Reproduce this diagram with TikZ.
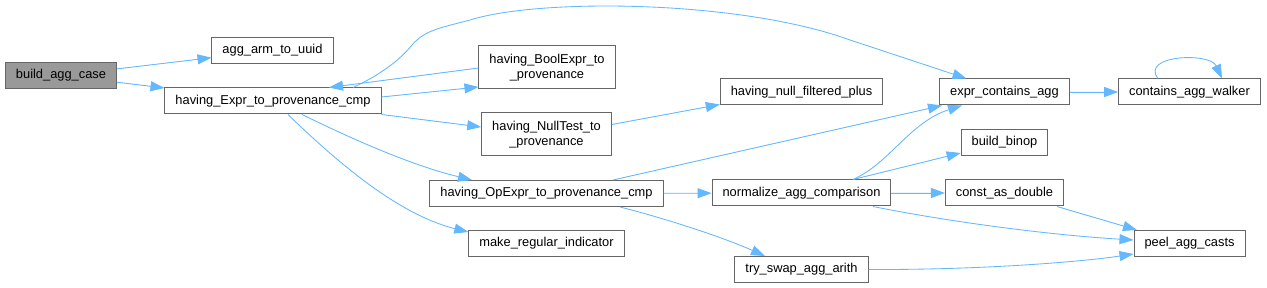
\documentclass[tikz,border=0pt]{standalone}
\usepackage{fontspec}
\setmainfont{Liberation Sans}
\usetikzlibrary{arrows.meta}

\definecolor{edgeblue}{HTML}{63B8FF}
\definecolor{boxgray}{HTML}{666666}
\definecolor{rootfill}{HTML}{999999}

\begin{document}
\begin{tikzpicture}[
  x=1pt, y=-1pt,
  >={Triangle[length=14pt,width=10pt]},
  every node/.style={font=\fontsize{12.85}{15.5}\selectfont},
  func/.style={draw=boxgray,line width=1pt,fill=white,minimum height=26pt,inner xsep=10.5pt,inner ysep=0pt},
  func2/.style={func,minimum height=43pt,align=center},
  call/.style={->,draw=edgeblue,fill=edgeblue,line width=0.85pt}
]
  \fill[white] (0,0) rectangle (1267,288);
  \useasboundingbox (0,0) rectangle (1267,288);

  \node[func,fill=rootfill] (buildcase) at (61,75.5) {build\_agg\_case};
  \node[func] (armuuid) at (272.5,50.5) {agg\_arm\_to\_uuid};
  \node[func] (exprcmp) at (273,101) {having\_Expr\_to\_provenance\_cmp};
  \node[func2] (boolexpr) at (547,67.5) {having\_BoolExpr\_to\\\_provenance};
  \node[func2] (nulltest) at (546.5,134.5) {having\_NullTest\_to\\\_provenance};
  \node[func] (nullplus) at (801.5,92) {having\_null\_filtered\_plus};
  \node[func] (containsagg) at (1004.5,92) {expr\_contains\_agg};
  \node[func] (walker) at (1189.5,92) {contains\_agg\_walker};
  \node[func] (binop) at (1004.5,142.5) {build\_binop};
  \node[func] (opexprcmp) at (546.5,193.5) {having\_OpExpr\_to\_provenance\_cmp};
  \node[func] (normcmp) at (801.5,193) {normalize\_agg\_comparison};
  \node[func] (constdbl) at (1004.5,193) {const\_as\_double};
  \node[func] (makeind) at (546.5,243.5) {make\_regular\_indicator};
  \node[func] (swaparith) at (801.5,269.5) {try\_swap\_agg\_arith};
  \node[func] (peelcasts) at (1189.5,243.5) {peel\_agg\_casts};

  \draw[call] (buildcase) -- (armuuid);
  \draw[call] (buildcase) -- (exprcmp);
  \draw[call] ([yshift=4pt]exprcmp.east) -- ([yshift=-19.5pt]boolexpr.west);
  \draw[call] ([yshift=-0.5pt]boolexpr.west) -- ([xshift=56pt]exprcmp.north);
  \draw[call,fill=none] ([xshift=80pt]exprcmp.north) .. controls (380,75) and (400,60) .. (412,45)
    .. controls (425,30) and (440,28) .. (470,20)
    .. controls (540,-2) and (740,0) .. (850,40) -- ([xshift=-38pt]containsagg.north);
  \draw[call] (exprcmp.south east) -- ([yshift=7.5pt]nulltest.west);
  \draw[call,fill=none] ([xshift=29pt]exprcmp.south) .. controls (350,138) and (410,165) .. ([xshift=-74.5pt]opexprcmp.north);
  \draw[call,fill=none] ([xshift=15pt]exprcmp.south) .. controls (340,165) and (400,215) .. ([yshift=11.5pt]makeind.west);
  \draw[call] ([yshift=10pt]nulltest.east) -- ([yshift=1pt]nullplus.south west);
  \draw[call] (containsagg) -- (walker);
  \draw[call,fill=none] ([xshift=-31.5pt]walker.north) .. controls (1140,55) and (1210,52) .. ([xshift=32.5pt]walker.north);
  \draw[call] ([xshift=66.5pt]opexprcmp.north) -- ([xshift=-62.5pt]containsagg.south);
  \draw[call] (opexprcmp) -- (normcmp);
  \draw[call,fill=none] ([xshift=73.5pt]opexprcmp.south) .. controls (660,217) and (720,236) .. ([xshift=-36.5pt]swaparith.north);
  \draw[call,fill=none] ([xshift=51.5pt]normcmp.north) .. controls (890,163) and (910,122) .. ([xshift=-42.5pt]containsagg.south);
  \draw[call] ([xshift=51.5pt]normcmp.north) -- ([yshift=-10.5pt]binop.west);
  \draw[call] (normcmp) -- (constdbl);
  \draw[call,fill=none] ([xshift=71.5pt]normcmp.south) .. controls (950,222) and (1050,235) .. ([yshift=3.5pt]peelcasts.west);
  \draw[call] ([xshift=52.5pt]constdbl.south) -- ([xshift=-52.5pt]peelcasts.north);
  \draw[call,fill=none] (swaparith.east) .. controls (980,270) and (1080,262) .. ([yshift=-10.5pt]peelcasts.west);
\end{tikzpicture}
\end{document}
